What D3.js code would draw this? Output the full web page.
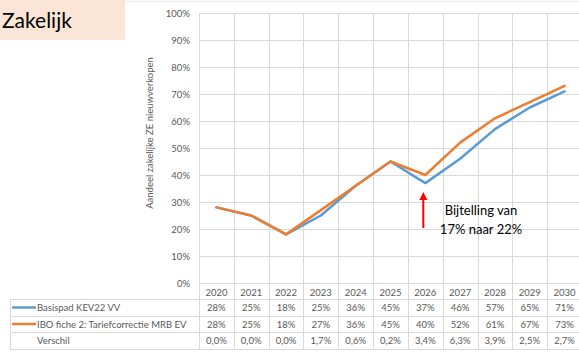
<!DOCTYPE html>
<html><head><meta charset="utf-8">
<script src="https://cdn.jsdelivr.net/npm/d3@7"></script>
<style>body{margin:0;background:#fff;}svg{display:block;}</style>
</head><body>
<svg id="c" width="579" height="353"></svg>
<script>
const years = ["2020","2021","2022","2023","2024","2025","2026","2027","2028","2029","2030"];
const basispad = [28,25,18,25,36,45,37,46,57,65,71];
const ibo = [28,25,18,27,36,45,40,52,61,67,73];
const verschil = ["0,0%","0,0%","0,0%","1,7%","0,6%","0,2%","3,4%","6,3%","3,9%","2,5%","2,7%"];
const yTicks = [0,10,20,30,40,50,60,70,80,90,100];
const seriesNames = ["Basispad KEV22 VV","IBO fiche 2: Tariefcorrectie MRB EV","Verschil"];
const colors = ["#5B9BD5","#ED7D31"];

const svg = d3.select("#c");
const font = "Lato, 'Open Sans', sans-serif";
const grid = "#d9d9d9";
const txt = "#595959";

// title box
svg.append("rect").attr("x",0).attr("y",0).attr("width",125).attr("height",40).attr("fill","#FBE5D6");
svg.append("text").attr("x",2).attr("y",28).attr("font-family",font).attr("font-size",21).attr("fill","#000").text("Zakelijk");
svg.append("line").attr("x1",125).attr("x2",579).attr("y1",1.5).attr("y2",1.5).attr("stroke","#ececec");

const x = d3.scaleBand().domain(years).range([199, 582]);
const y = d3.scaleLinear().domain([0,100]).range([283, 13]);

// horizontal gridlines
svg.append("g").selectAll("line").data(yTicks).join("line")
  .attr("x1",199).attr("x2",582).attr("y1",d=>Math.round(y(d))+0.5).attr("y2",d=>Math.round(y(d))+0.5)
  .attr("stroke",grid).attr("stroke-width",1);
// vertical gridlines through plot and table
const bounds = years.map(d=>x(d)).concat([x.range()[1]]);
svg.append("g").selectAll("line").data(bounds).join("line")
  .attr("x1",d=>Math.round(d)+0.5).attr("x2",d=>Math.round(d)+0.5).attr("y1",13).attr("y2",349)
  .attr("stroke",grid).attr("stroke-width",1);

// y axis labels
const yAxis = d3.axisLeft(y).tickValues(yTicks).tickFormat(d=>d+"%").tickSize(0).tickPadding(0);
const ga = svg.append("g").attr("transform","translate(190,0)").call(yAxis);
ga.select(".domain").remove();
ga.selectAll("text").attr("font-family",font).attr("font-size",9.5).attr("fill",txt);

// y title
svg.append("text").attr("transform","translate(153,133) rotate(-90)").attr("text-anchor","middle")
  .attr("font-family",font).attr("font-size",9.5).attr("fill",txt).text("Aandeel zakelijke ZE nieuwverkopen");

// lines
const line = d3.line().x((d,i)=>x(years[i])+x.bandwidth()/2).y(d=>y(d));
[basispad, ibo].forEach((s,k)=>{
  svg.append("path").attr("d",line(s)).attr("fill","none").attr("stroke",colors[k])
    .attr("stroke-width",2.5).attr("stroke-linejoin","round").attr("stroke-linecap","round");
});

// annotation arrow
const ax = x("2026")+x.bandwidth()/2 - 2;
svg.append("defs").append("marker").attr("id","ah").attr("viewBox","0 0 10 10").attr("refX",5).attr("refY",5)
  .attr("markerWidth",4).attr("markerHeight",5).attr("orient","auto")
  .append("path").attr("d","M0,0 L10,5 L0,10 z").attr("fill","#FF0000");
svg.append("line").attr("x1",ax).attr("x2",ax).attr("y1",228).attr("y2",196)
  .attr("stroke","#FF0000").attr("stroke-width",2).attr("marker-end","url(#ah)");
svg.append("text").attr("x",481).attr("y",215).attr("text-anchor","middle").attr("font-family",font)
  .attr("font-size",13).attr("fill","#000").text("Bijtelling van");
svg.append("text").attr("x",481).attr("y",234).attr("text-anchor","middle").attr("font-family",font)
  .attr("font-size",13).attr("fill","#000").text("17% naar 22%");

// table
const rowTops = [283,299,316,332,349];
[299,316,332,349].forEach(yy=>{
  svg.append("line").attr("x1",10).attr("x2",582).attr("y1",yy+0.5).attr("y2",yy+0.5).attr("stroke",grid);
});
svg.append("line").attr("x1",10.5).attr("x2",10.5).attr("y1",299).attr("y2",349).attr("stroke",grid);

// header years
svg.append("g").selectAll("text").data(years).join("text")
  .attr("x",d=>x(d)+x.bandwidth()/2).attr("y",296).attr("text-anchor","middle")
  .attr("font-family",font).attr("font-size",9.5).attr("fill",txt).text(d=>d);

const rows = [basispad.map(v=>v+"%"), ibo.map(v=>v+"%"), verschil];
rows.forEach((r,ri)=>{
  const cy = (rowTops[ri+1]+rowTops[ri+2])/2 + 3.5;
  svg.append("g").selectAll("text").data(r).join("text")
    .attr("x",(d,i)=>x(years[i])+x.bandwidth()/2).attr("y",cy).attr("text-anchor","middle")
    .attr("font-family",font).attr("font-size",9.5).attr("fill",txt).text(d=>d);
  if (ri<2) {
    svg.append("line").attr("x1",12).attr("x2",36).attr("y1",cy-3.5).attr("y2",cy-3.5)
      .attr("stroke",colors[ri]).attr("stroke-width",2.5);
  }
  svg.append("text").attr("x",37).attr("y",cy).attr("font-family",font).attr("font-size",9.5)
    .attr("fill",txt).text(seriesNames[ri]);
});
</script>
</body></html>
